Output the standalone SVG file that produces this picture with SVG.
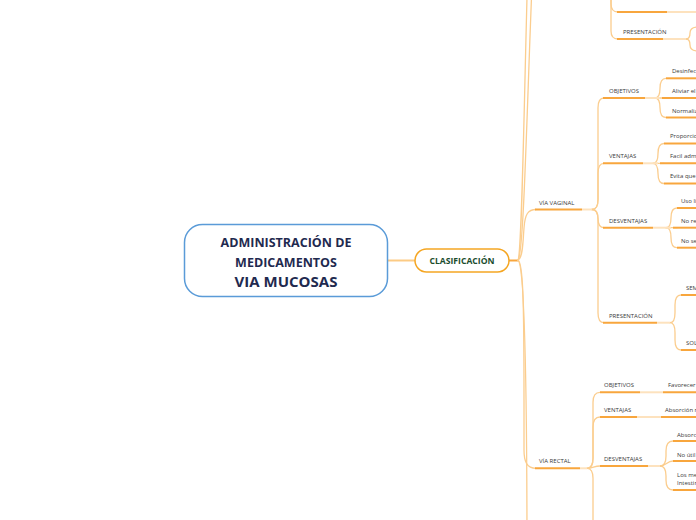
<svg xmlns="http://www.w3.org/2000/svg" width="696" height="520" viewBox="0 0 696 520">
<style>
.c{fill:none;stroke:#FBCD8E;stroke-width:1.3;stroke-linecap:round}
.u{fill:none;stroke:#F8A63D;stroke-width:2}
.l{fill:none;stroke:#FDE2BE;stroke-width:2}
.t{font-family:"Open Sans","Liberation Sans",sans-serif;font-size:6px;fill:#3a3a3a}
.tt{font-family:"Open Sans","Liberation Sans",sans-serif;font-weight:bold;fill:#1f2a4f;text-anchor:middle}
</style>
<rect width="696" height="520" fill="#ffffff"/>
<g id="connectors">
<path d="M388,260.5 H415" stroke="#FCCB85" stroke-width="2" fill="none"/>
<path d="M509,260.5 H519" stroke="#F8A63D" stroke-width="2" fill="none"/>
<path class="c" d="M518,260 C524,255 527,100 533,-40"/>
<path class="c" d="M518,260 C522,255 524,100 528,-40"/>
<path class="c" d="M518,260 C523,258 523,240 524,228 C525,214 528,209.5 536,209.5"/>
<path class="c" d="M518,260 C523,262 524,300 524,400 L524,450 C524,462 527,468.3 536,468.3"/>
<path class="c" d="M518,260 C524,265 527,350 527,560"/>
<path class="c" d="M592,209.5 Q598,209.5 598,199.5 L598,108 Q598,98 604,98"/>
<path class="c" d="M592,209.5 Q598,209.5 598,199.5 L598,173.3 Q598,163.3 604,163.3"/>
<path class="c" d="M592,209.5 Q598,209.5 598,218.6 Q598,227.7 604,227.7"/>
<path class="c" d="M592,209.5 Q598,209.5 598,219.5 L598,312.7 Q598,322.7 604,322.7"/>
<path class="c" d="M655,98 Q660,98 660,88.2 Q660,78.3 666,78.3"/>
<path class="c" d="M655,98 H666"/>
<path class="c" d="M655,98 Q660,98 660,107.7 Q660,117.5 666,117.5"/>
<path class="c" d="M653,163.3 Q658,163.3 658,153.4 Q658,143.5 664,143.5"/>
<path class="c" d="M653,163.3 H664"/>
<path class="c" d="M653,163.3 Q658,163.3 658,173.4 Q658,183.5 664,183.5"/>
<path class="c" d="M666,227.7 Q671,227.7 671,217.8 Q671,208 677,208"/>
<path class="c" d="M666,227.7 H677"/>
<path class="c" d="M666,227.7 Q671,227.7 671,237.7 Q671,247.7 677,247.7"/>
<path class="c" d="M670,322.7 Q675,322.7 675,312.7 L675,305 Q675,295 681,295"/>
<path class="c" d="M670,322.7 Q675,322.7 675,332.7 L675,340 Q675,350 681,350"/>
<path class="c" d="M587,468.3 Q593,468.3 593,458.3 L593,402.3 Q593,392.3 600,392.3"/>
<path class="c" d="M587,468.3 Q593,468.3 593,458.3 L593,427 Q593,417 600,417"/>
<path class="c" d="M587,468.3 C593,468.3 594,466 600,466"/>
<path class="c" d="M587,468.3 Q593,468.3 593,478.3 L593,530"/>
<path class="c" d="M660,466 C666,466 667,461 673,461"/>
<path class="c" d="M660,466 Q666,466 666,456 L666,451 Q666,441 673,441"/>
<path class="c" d="M660,466 Q666,466 666,476 L666,480 Q666,490 673,490"/>
<path class="c" d="M611,-20 L611,4 Q611,12 618,12"/>
<path class="c" d="M611,-20 L611,31 Q611,39 618,39"/>
<path class="c" d="M686,39 Q690,39 690,33 Q690,27 698,27"/>
<path class="c" d="M686,39 Q690,39 690,45 Q690,51 698,51"/>
</g>
<g id="root">
<rect x="184.5" y="224.5" width="203" height="72" rx="18" fill="#ffffff" stroke="#5A9BD8" stroke-width="1.5"/>
<text class="tt" x="286" y="247" font-size="12.5">ADMINISTRACIÓN DE</text>
<text class="tt" x="286" y="267" font-size="12.5">MEDICAMENTOS</text>
<text class="tt" x="286" y="287" font-size="15">VIA MUCOSAS</text>
</g>
<g id="clasificacion">
<rect x="415" y="249" width="94" height="23" rx="11.5" fill="#ffffff" stroke="#F5A623" stroke-width="1.5"/>
<text x="462" y="264" text-anchor="middle" font-family="'Open Sans','Liberation Sans',sans-serif" font-weight="bold" font-size="8.6" fill="#1b4d2e">CLASIFICACIÓN</text>
</g>
<g id="top-item">
<path class="u" d="M617,12 H667"/><path class="l" d="M667,12 H696"/>
</g>
<g id="top-presentacion">
<text class="t" x="623" y="34">PRESENTACIÓN</text>
<path class="u" d="M617,39 H663"/><path class="l" d="M663,39 H686"/>
</g>
<g id="via-vaginal">
<text class="t" x="539" y="205">VÍA VAGINAL</text>
<path class="u" d="M535,209.5 H582"/><path class="l" d="M582,209.5 H592"/>
</g>
<g id="vv-objetivos">
<text class="t" x="609" y="93">OBJETIVOS</text>
<path class="u" d="M603,98 H645"/><path class="l" d="M645,98 H660"/>
</g>
<g id="vv-obj-1"><text class="t" x="672" y="73">Desinfec</text><path class="u" d="M666,78.3 H696"/></g>
<g id="vv-obj-2"><text class="t" x="672" y="93">Aliviar el</text><path class="u" d="M662,98 H696"/></g>
<g id="vv-obj-3"><text class="t" x="672" y="112.5">Normaliz</text><path class="u" d="M666,117.5 H696"/></g>
<g id="vv-ventajas">
<text class="t" x="609" y="158">VENTAJAS</text>
<path class="u" d="M603,163.3 H643"/><path class="l" d="M643,163.3 H658"/>
</g>
<g id="vv-ven-1"><text class="t" x="670" y="138">Proporcio</text><path class="u" d="M664,143.5 H696"/></g>
<g id="vv-ven-2"><text class="t" x="670" y="158">Facil adm</text><path class="u" d="M660,163.3 H696"/></g>
<g id="vv-ven-3"><text class="t" x="670" y="178">Evita que</text><path class="u" d="M664,183.5 H696"/></g>
<g id="vv-desventajas">
<text class="t" x="609" y="222.7">DESVENTAJAS</text>
<path class="u" d="M603,227.7 H653"/><path class="l" d="M653,227.7 H671"/>
</g>
<g id="vv-des-1"><text class="t" x="681" y="203">Uso li</text><path class="u" d="M677,208 H696"/></g>
<g id="vv-des-2"><text class="t" x="681" y="222.7">No re</text><path class="u" d="M673,227.7 H696"/></g>
<g id="vv-des-3"><text class="t" x="681" y="242.7">No se</text><path class="u" d="M677,247.7 H696"/></g>
<g id="vv-presentacion">
<text class="t" x="609" y="317.5">PRESENTACIÓN</text>
<path class="u" d="M603,322.7 H657"/><path class="l" d="M657,322.7 H670"/>
</g>
<g id="vv-pre-1"><text class="t" x="686" y="289.5">SEM</text><path class="u" d="M681,295 H696"/></g>
<g id="vv-pre-2"><text class="t" x="686" y="344.5">SOLU</text><path class="u" d="M681,350 H696"/></g>
<g id="via-rectal">
<text class="t" x="539" y="463">VÍA RECTAL</text>
<path class="u" d="M535,468.3 H580"/><path class="l" d="M580,468.3 H587"/>
</g>
<g id="vr-objetivos">
<text class="t" x="604" y="387">OBJETIVOS</text>
<path class="u" d="M600,392.3 H640"/><path class="l" d="M640,392.3 H663"/>
</g>
<g id="vr-obj-1"><text class="t" x="668" y="387">Favorecer</text><path class="u" d="M663,392.3 H696"/></g>
<g id="vr-ventajas">
<text class="t" x="604" y="412">VENTAJAS</text>
<path class="u" d="M600,417 H637"/><path class="l" d="M637,417 H661"/>
</g>
<g id="vr-ven-1"><text class="t" x="665" y="412">Absorción r</text><path class="u" d="M661,417 H696"/></g>
<g id="vr-desventajas">
<text class="t" x="604" y="461">DESVENTAJAS</text>
<path class="u" d="M600,466 H648"/><path class="l" d="M648,466 H660"/>
</g>
<g id="vr-des-1"><text class="t" x="677" y="437">Absorc</text><path class="u" d="M673,441 H696"/></g>
<g id="vr-des-2"><text class="t" x="677" y="457">No útil</text><path class="u" d="M673,461 H696"/></g>
<g id="vr-des-3"><text class="t" x="677" y="477">Los me</text><text class="t" x="677" y="484.5">Intestin</text><path class="u" d="M673,490 H696"/></g>
</svg>
